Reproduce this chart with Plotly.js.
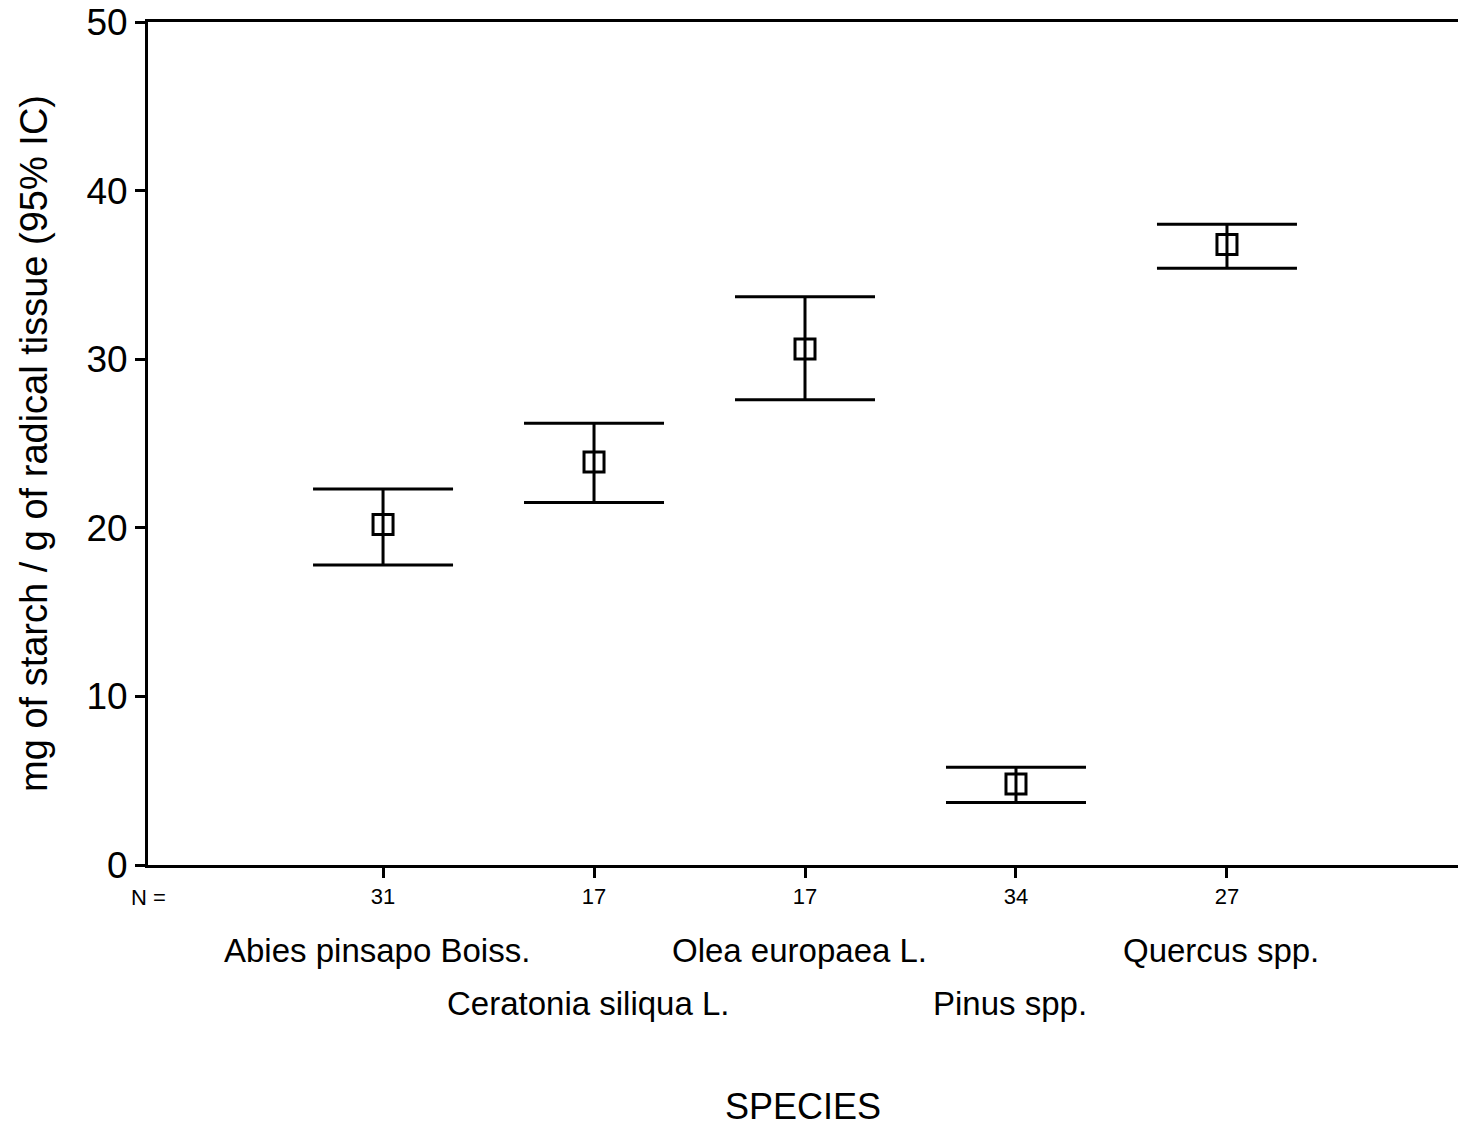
<!DOCTYPE html>
<html>
<head>
<meta charset="utf-8">
<script src="https://cdn.plot.ly/plotly-3.0.1.min.js"></script>
<style>html,body{margin:0;padding:0;background:#fff;}#chart{width:1458px;height:1135px;}</style>
</head>
<body>
<div id="chart"></div>
<script>
// Data
const species = ["Abies pinsapo Boiss.", "Ceratonia siliqua L.", "Olea europaea L.", "Pinus spp.", "Quercus spp."];
const nValues = ["31", "17", "17", "34", "27"];
const means = [20.2, 23.9, 30.6, 4.8, 36.8];
const upperCI = [22.3, 26.2, 33.7, 5.8, 38.0];
const lowerCI = [17.8, 21.5, 27.6, 3.7, 35.4];
const yTicks = [0, 10, 20, 30, 40, 50];

const idx = species.map((_, i) => i);
const FONT = "Liberation Sans, Arial, sans-serif";

const trace = {
  type: "scatter",
  mode: "markers",
  x: idx,
  y: means,
  marker: { symbol: "square-open", size: 20, color: "#000", line: { width: 3, color: "#000" } },
  error_y: {
    type: "data",
    symmetric: false,
    array: upperCI.map((u, i) => u - means[i]),
    arrayminus: lowerCI.map((l, i) => means[i] - l),
    color: "#000",
    thickness: 3,
    width: 70
  },
  hoverinfo: "x+y",
  showlegend: false
};

const annotations = species.map((s, i) => ({
  text: s,
  xref: "x", yref: "paper",
  x: i, y: 0,
  xanchor: "center", yanchor: "middle",
  xshift: -6,
  yshift: i % 2 === 0 ? -85 : -138,
  showarrow: false,
  font: { family: FONT, size: 33, color: "#000" }
}));
annotations.push({
  text: "N =",
  xref: "paper", yref: "paper",
  x: 0, y: 0,
  xanchor: "center", yanchor: "middle",
  yshift: -32,
  showarrow: false,
  font: { family: FONT, size: 22, color: "#000" }
});

const layout = {
  width: 1458,
  height: 1135,
  margin: { l: 148, r: 0, t: 22, b: 270 },
  paper_bgcolor: "#fff",
  plot_bgcolor: "#fff",
  font: { family: FONT, color: "#000" },
  xaxis: {
    range: [-1.114, 5.095],
    tickmode: "array",
    tickvals: idx,
    ticktext: nValues,
    ticks: "outside",
    ticklen: 10,
    tickwidth: 3,
    tickcolor: "#000",
    tickfont: { family: FONT, size: 22, color: "#000" },
    showgrid: false,
    zeroline: false,
    showline: true,
    linewidth: 3,
    linecolor: "#000",
    mirror: true,
    title: { text: "SPECIES", font: { family: FONT, size: 36, color: "#000" }, standoff: 186 }
  },
  yaxis: {
    range: [0, 50],
    tickmode: "array",
    tickvals: yTicks,
    ticktext: yTicks.map(String),
    ticks: "outside",
    ticklen: 10,
    tickwidth: 3,
    tickcolor: "#000",
    tickfont: { family: FONT, size: 37, color: "#000" },
    showgrid: false,
    zeroline: false,
    showline: true,
    linewidth: 3,
    linecolor: "#000",
    mirror: false,
    title: { text: "mg of starch / g of radical tissue (95% IC)", font: { family: FONT, size: 38, color: "#000" }, standoff: 28 }
  },
  annotations: annotations
};

Plotly.newPlot("chart", [trace], layout, { displayModeBar: false, staticPlot: true });
</script>
</body>
</html>
